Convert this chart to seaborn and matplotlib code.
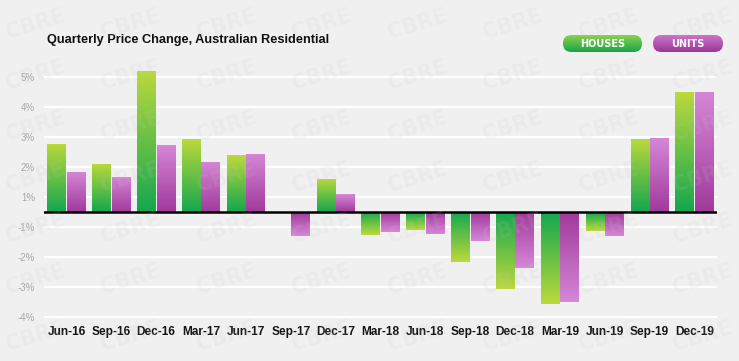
import numpy as np
import pandas as pd
import matplotlib
matplotlib.use("Agg")
import matplotlib.pyplot as plt
from matplotlib.colors import LinearSegmentedColormap, to_rgba
from matplotlib.patches import FancyBboxPatch
import seaborn as sns

# ---- data ----
quarters = ["Jun-16", "Sep-16", "Dec-16", "Mar-17", "Jun-17", "Sep-17", "Dec-17", "Mar-18",
            "Jun-18", "Sep-18", "Dec-18", "Mar-19", "Jun-19", "Sep-19", "Dec-19"]
houses = [2.27, 1.62, 4.72, 2.43, 1.89, 0.0, 1.11, -0.78, -0.60, -1.67, -2.58, -3.07, -0.63, 2.44, 4.00]
units = [1.34, 1.18, 2.25, 1.67, 1.94, -0.80, 0.59, -0.65, -0.73, -0.96, -1.88, -2.99, -0.79, 2.46, 4.00]
series_names = ["HOUSES", "UNITS"]
ytick_pos = [4.5, 3.5, 2.5, 1.5, 0.5, -0.5, -1.5, -2.5, -3.5]
ytick_labels = ["5%", "4%", "3%", "2%", "1%", "-1%", "-2%", "-3%", "-4%"]
title = "Quarterly Price Change, Australian Residential"

df = pd.DataFrame({
    "quarter": quarters * 2,
    "change": houses + units,
    "type": [series_names[0]] * len(quarters) + [series_names[1]] * len(quarters),
})

base_col = {"HOUSES": "#13a74f", "UNITS": "#a03a9c"}
tip_col = {"HOUSES": "#bcd93c", "UNITS": "#d687d6"}

W, H = 739, 361
BG = "#f0f0f0"
fig = plt.figure(figsize=(W / 100, H / 100), dpi=100)
fig.patch.set_facecolor(BG)

# background axes (pixel coords)
bg = fig.add_axes([0, 0, 1, 1], zorder=0)
bg.set_xlim(0, W)
bg.set_ylim(H, 0)
bg.axis("off")

# main axes
ax_l, ax_r, ax_t, ax_b = 44, 717, 62.3, 320
ax = fig.add_axes([ax_l / W, (H - ax_b) / H, (ax_r - ax_l) / W, (ax_b - ax_t) / H], zorder=1)
ax.patch.set_alpha(0)

sns.barplot(data=df, x="quarter", y="change", hue="type", palette=base_col,
            order=quarters, hue_order=series_names, width=0.87, gap=0.04,
            linewidth=0, legend=False, ax=ax)

# gradient fill of bars (base colour at zero, light colour at the tip)
pal_rgba = {k: to_rgba(v) for k, v in base_col.items()}
for p in list(ax.patches):
    fc = p.get_facecolor()
    key = min(pal_rgba, key=lambda k: sum((a - b) ** 2 for a, b in zip(pal_rgba[k], fc)))
    x, w = p.get_x(), p.get_width()
    y0, h = p.get_y(), p.get_height()
    lo, hi = min(y0, y0 + h), max(y0, y0 + h)
    if hi - lo < 1e-6:
        continue
    cmap = LinearSegmentedColormap.from_list("g", [base_col[key], tip_col[key]])
    val = hi if abs(hi) > abs(lo) else lo
    arr = np.linspace(0, 1, 256)[:, None] if val > 0 else np.linspace(1, 0, 256)[:, None]
    im = ax.imshow(arr, extent=[x, x + w, lo, hi], origin="lower", aspect="auto",
                   cmap=cmap, zorder=2, interpolation="bilinear")
    im.set_clip_path(p)
    p.set_facecolor("none")

ax.set_xlim(-0.5, len(quarters) - 0.5)
ax.set_ylim(-3.6, 5.0)
ax.set_yticks(ytick_pos)
ax.set_yticklabels(ytick_labels)
ax.grid(axis="y", color="white", linewidth=1.6)
ax.grid(axis="x", visible=False)
ax.set_axisbelow(True)
ax.axhline(0, color="black", linewidth=1.8, zorder=5)
for s in ax.spines.values():
    s.set_visible(False)
ax.tick_params(axis="y", length=0, pad=6.5, labelsize=7, labelcolor="#a8a8a8")
ax.tick_params(axis="x", length=0, pad=4, labelsize=8.6, labelcolor="#151515")
for t in ax.get_xticklabels():
    t.set_fontweight("bold")
    t.set_fontfamily("Liberation Sans")
for t in ax.get_yticklabels():
    t.set_fontfamily("Liberation Sans")
ax.set_xlabel("")
ax.set_ylabel("")

# title
bg.text(47, 39.5, title, fontsize=9.2, fontweight="bold", family="Liberation Sans",
        color="#111111", ha="left", va="center")

# legend pills
pill_specs = [("HOUSES", 563, 79, "#8bd24e", "#17a44a"),
              ("UNITS", 653, 70, "#cc74cc", "#993796")]
for label, px, pw, top_c, bot_c in pill_specs:
    py, ph = 35, 17
    pill = FancyBboxPatch((px, py), pw, ph, boxstyle="round,pad=0,rounding_size=8.5",
                          linewidth=0, facecolor="none")
    bg.add_patch(pill)
    cmap = LinearSegmentedColormap.from_list("p", [top_c, bot_c])
    im = bg.imshow(np.linspace(0, 1, 64)[:, None], extent=[px, px + pw, py + ph, py],
                   origin="upper", aspect="auto", cmap=cmap, interpolation="bilinear")
    im.set_clip_path(pill)
    bg.text(px + pw / 2, py + ph / 2 + 0.5, label, color="white", fontsize=7,
            fontweight="bold", ha="center", va="center")
bg.set_xlim(0, W)
bg.set_ylim(H, 0)

# watermark overlay
wm = fig.add_axes([0, 0, 1, 1], zorder=3)
wm.set_xlim(0, W)
wm.set_ylim(H, 0)
wm.axis("off")
wm.patch.set_alpha(0)
for yy in [24, 75, 126, 177, 228, 279, 336]:
    for xx in [36, 131, 227, 322, 418, 513, 609, 703]:
        wm.text(xx, yy, "CBRE", fontsize=15, fontweight="bold", color="#c8c8c8",
                alpha=0.13, rotation=17, ha="center", va="center")

fig.savefig("out.png", dpi=100, facecolor=BG)
